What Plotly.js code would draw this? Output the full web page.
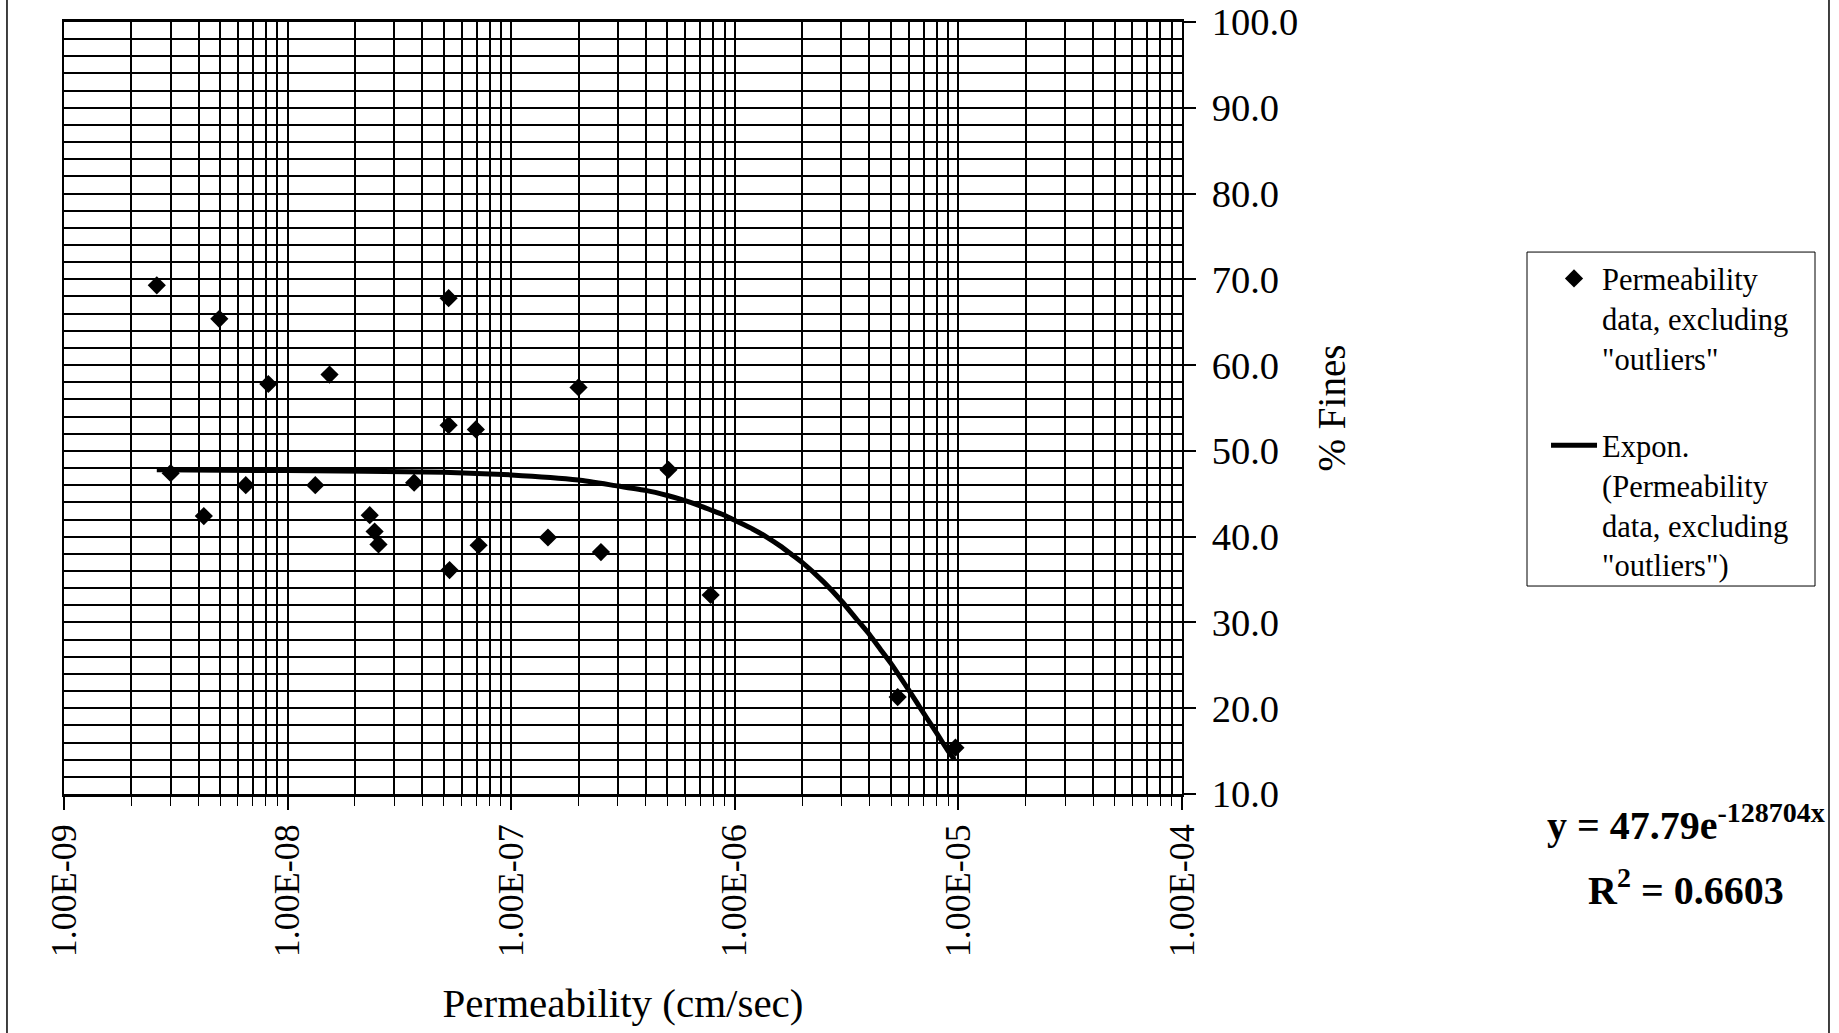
<!DOCTYPE html>
<html>
<head>
<meta charset="utf-8">
<script src="https://cdn.plot.ly/plotly-3.0.1.min.js"></script>
<style>html,body{margin:0;padding:0;background:#fff;}#chart{width:1839px;height:1033px;}</style>
</head>
<body>
<div id="chart"></div>
<script>
// Measured data points: permeability (cm/sec) vs % fines
var permeability = [2.6e-9, 3.0e-9, 4.22e-9, 4.95e-9, 6.5e-9, 8.2e-9, 1.33e-8, 1.54e-8, 2.33e-8, 2.45e-8, 2.55e-8, 3.68e-8,
                    5.25e-8, 5.25e-8, 5.3e-8, 6.95e-8, 7.15e-8, 1.46e-7, 2.0e-7, 2.52e-7, 5.05e-7, 7.8e-7, 5.35e-6, 9.7e-6];
var fines = [69.3, 47.4, 42.4, 65.4, 46.0, 57.8, 46.0, 58.9, 42.5, 40.6, 39.1, 46.3,
             67.8, 53.0, 36.1, 52.5, 39.0, 39.9, 57.4, 38.2, 47.8, 33.2, 21.3, 15.4];

// Trendline
var trendX = [2.6e-9, 1e-8, 5e-8, 1e-7, 2e-7, 3e-7, 4e-7, 5e-7, 6e-7, 7e-7, 8e-7, 9e-7, 1e-6, 1.2e-6, 1.4e-6, 1.6e-6,
              1.8e-6, 2e-6, 2.5e-6, 3e-6, 3.5e-6, 4e-6, 4.5e-6, 5e-6, 5.5e-6, 6e-6, 6.5e-6, 7e-6, 7.5e-6, 8e-6,
              8.5e-6, 9e-6, 9.6e-6];
var trendY = [47.8, 47.7, 47.5, 47.2, 46.6, 45.9, 45.4, 44.8, 44.2, 43.6, 43.0, 42.5, 41.9, 40.9, 39.9, 38.9,
              37.9, 37.0, 34.7, 32.5, 30.4, 28.6, 26.8, 25.2, 23.6, 22.1, 20.7, 19.4, 18.2, 17.1,
              16.0, 15.0, 14.0];

// Axis tick labels
var xTickVals = [1e-9, 1e-8, 1e-7, 1e-6, 1e-5, 1e-4];
var xTickText = ["1.00E-09", "1.00E-08", "1.00E-07", "1.00E-06", "1.00E-05", "1.00E-04"];

var serif = "Liberation Serif, Times New Roman, serif";

var traces = [
  {
    x: permeability, y: fines, type: "scatter", mode: "markers",
    name: "Permeability<br>data, excluding<br>\"outliers\"",
    legendgroup: "a",
    marker: {symbol: "diamond", size: 14, color: "#000"},
    cliponaxis: false
  },
  {
    x: trendX, y: trendY, type: "scatter", mode: "lines",
    name: "Expon.<br>(Permeability<br>data, excluding<br>\"outliers\")",
    legendgroup: "b",
    line: {color: "#000", width: 5, shape: "spline", smoothing: 0.5}
  }
];

var gridW = 1.5;

var layout = {
  width: 1839, height: 1033,
  margin: {l: 64, r: 657, t: 22, b: 239},
  paper_bgcolor: "#fff", plot_bgcolor: "#fff",
  font: {family: serif, color: "#000"},
  showlegend: true,
  xaxis: {
    type: "log", range: [-9, -4],
    tickvals: xTickVals, ticktext: xTickText, tickangle: -90,
    tickfont: {family: serif, size: 36, color: "#000"},
    ticks: "outside", ticklen: 13, tickwidth: 1.5, tickcolor: "#000",
    showgrid: true, gridcolor: "#000", gridwidth: gridW,
    minor: {dtick: "D1", showgrid: true, gridcolor: "#000", gridwidth: gridW,
            ticks: "outside", ticklen: 9, tickwidth: 1.3, tickcolor: "#000"},
    showline: true, linecolor: "#000", linewidth: 2.5, mirror: true,
    zeroline: false, automargin: false,
    title: {text: "Permeability (cm/sec)", font: {family: serif, size: 41, color: "#000"}, standoff: 33}
  },
  yaxis: {
    range: [10, 100], dtick: 10, tick0: 10, tickformat: ".1f", side: "right",
    tickfont: {family: serif, size: 38.5, color: "#000"},
    ticks: "outside", ticklen: 12, tickwidth: 1.5, tickcolor: "#000",
    ticklabelstandoff: 8,
    showgrid: true, gridcolor: "#000", gridwidth: gridW,
    minor: {dtick: 2, showgrid: true, gridcolor: "#000", gridwidth: gridW, ticks: ""},
    showline: true, linecolor: "#000", linewidth: 2, mirror: true,
    zeroline: false, automargin: false,
    title: {text: "% Fines", font: {family: serif, size: 39, color: "#000"}, standoff: 20}
  },
  legend: {
    x: 1.3256, y: 0.702, xanchor: "left", yanchor: "top",
    bgcolor: "rgba(0,0,0,0)", borderwidth: 0,
    font: {family: serif, size: 30.5, color: "#000"},
    valign: "top", traceorder: "grouped", tracegroupgap: 45, itemwidth: 46
  },
  annotations: [
    {xref: "paper", yref: "paper", x: 1.4508, y: -0.037, xanchor: "center", yanchor: "middle", showarrow: false,
     text: "<b>y = 47.79e<sup>-128704x</sup></b>", font: {family: serif, size: 40, color: "#000"}},
    {xref: "paper", yref: "paper", x: 1.4508, y: -0.121, xanchor: "center", yanchor: "middle", showarrow: false,
     text: "<b>R<sup>2</sup> = 0.6603</b>", font: {family: serif, size: 40, color: "#000"}}
  ],
  shapes: [
    {type: "rect", xref: "paper", yref: "paper", x0: 1.3086, x1: 1.5662, y0: 0.2694, y1: 0.702,
     line: {color: "#000", width: 1}, fillcolor: "rgba(0,0,0,0)", layer: "below"},
    {type: "line", xref: "paper", yref: "paper", x0: -0.051, x1: -0.051, y0: -0.31, y1: 1.03, line: {color: "#000", width: 1.5}},
    {type: "line", xref: "paper", yref: "paper", x0: 1.5787, x1: 1.5787, y0: -0.31, y1: 1.03, line: {color: "#000", width: 1.5}}
  ]
};

Plotly.newPlot("chart", traces, layout, {displayModeBar: false});
</script>
</body>
</html>
